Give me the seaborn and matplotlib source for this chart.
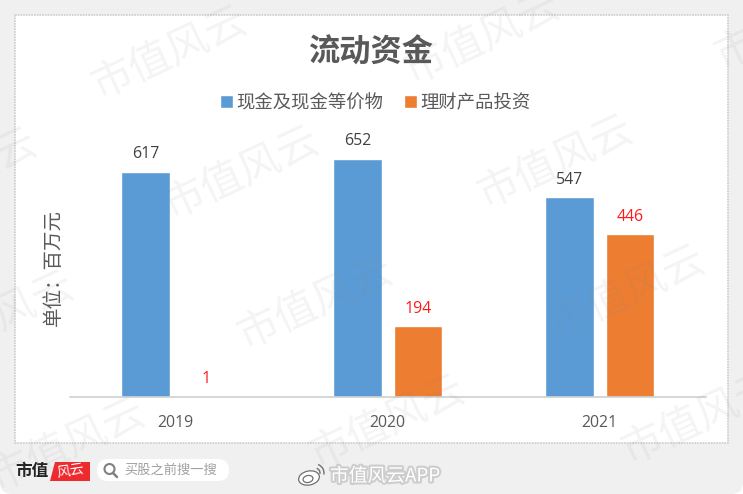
import matplotlib
matplotlib.use("Agg")
from matplotlib import pyplot as plt
from matplotlib import patheffects as pe
from matplotlib.patches import Rectangle, FancyBboxPatch, Circle, Ellipse, Polygon, Arc
import pandas as pd
import seaborn as sns

years = ["2019", "2020", "2021"]
cash = [617, 652, 547]
wealth = [1, 194, 446]
series_names = ["现金及现金等价物", "理财产品投资"]
title = "流动资金"
unit_label = "单位：百万元"
watermark = "市值风云"
# centre of each repeated watermark, in image pixels
watermark_at = [
    (170, 53), (483, 38), (242, 173), (556, 162), (-40, 175),
    (316, 303), (628, 292), (-3, 318), (388, 422), (700, 418),
    (68, 445), (793, 23), (170, 560), (480, 550),
]

BLUE = "#5B9BD5"
ORANGE = "#ED7D31"
GREY = "#595959"
NUM_FONT = ["Open Sans", "Noto Sans CJK SC"]

sns.set_theme(style="white")
plt.rcParams["font.family"] = ["Noto Sans CJK SC", "DejaVu Sans"]

df = pd.DataFrame({
    "year": years * 2,
    "value": cash + wealth,
    "series": [series_names[0]] * 3 + [series_names[1]] * 3,
})

W, H = 743, 494
fig = plt.figure(figsize=(W / 100, H / 100), dpi=100, facecolor="white")

# page background and the chart card, drawn in pixel coordinates
bg = fig.add_axes([0, 0, 1, 1], zorder=0)
bg.set_xlim(0, W)
bg.set_ylim(H, 0)
bg.axis("off")
bg.add_patch(FancyBboxPatch((0, -30), W, H + 30, boxstyle="round,pad=0,rounding_size=12",
                            fc="#F0F0F0", ec="none"))
bg.add_patch(Rectangle((15, 15), 713, 428, fc="white", ec="#D2D2D2", lw=1.3, ls=(0, (1, 0.5))))

ax = fig.add_axes([69.6 / W, 1 - 397 / H, 636 / W, 273.6 / H], zorder=1)
ax.patch.set_alpha(0)
sns.barplot(
    data=df, x="year", y="value", hue="series", order=years, hue_order=series_names,
    palette=[BLUE, ORANGE], width=0.57, gap=0.2, saturation=1, ax=ax,
)
ax.set_ylim(0, 750)
ax.set_yticks([])
ax.set_xlabel("")
ax.set_ylabel(unit_label, fontsize=14, color=GREY, labelpad=4, y=0.475)
ax.tick_params(axis="x", length=0, labelsize=11.4, labelcolor=GREY, pad=13)
for lab in ax.get_xticklabels():
    lab.set_family(NUM_FONT)
sns.despine(ax=ax, left=True)
ax.spines["bottom"].set_color("#D0D0D0")
ax.spines["bottom"].set_linewidth(1.2)

for cont, col in zip(ax.containers, ["#404040", "#FF1A1A"]):
    for lab in ax.bar_label(cont, color=col, fontsize=11.4, padding=7):
        lab.set_family(NUM_FONT)

ax.legend(
    loc="center", bbox_to_anchor=(375.5 / W, 1 - 103 / H), bbox_transform=fig.transFigure,
    ncol=2, frameon=False, fontsize=13.2, labelcolor=GREY, handlelength=0.7, handleheight=0.7,
    handletextpad=0.18, columnspacing=1.15,
)
fig.text(371 / W, 1 - 53 / H, title, ha="center", va="center", fontsize=22.5,
         fontweight="bold", color=GREY)

# footer
bg.text(15, 471, "市值", fontsize=12, fontweight="bold", color="#222222", va="center")
bg.add_patch(Polygon([(55, 462), (90, 462), (90, 481), (50, 481)], fc="#EE2A2E", ec="none"))
bg.text(70, 471, "风云", fontsize=10, color="white", ha="center", va="center", rotation=8)
bg.add_patch(FancyBboxPatch((97, 459), 132, 22, boxstyle="round,pad=0,rounding_size=11",
                            fc="white", ec="none"))
bg.add_patch(Circle((109.5, 469), 5, fc="none", ec="#808080", lw=1.5))
bg.plot([113, 117], [473, 477], color="#808080", lw=1.8)
bg.text(124, 470, "买股之前搜一搜", fontsize=9.5, color="#A0A0A0", va="center")

top = fig.add_axes([0, 0, 1, 1], zorder=2)
top.set_xlim(0, W)
top.set_ylim(H, 0)
top.axis("off")
top.add_patch(Ellipse((309, 478), 21, 14, angle=-12, fc="white", ec="#707070", lw=0.9))
top.add_patch(Ellipse((308, 479), 10, 7, angle=-12, fc="none", ec="#707070", lw=0.9))
top.add_patch(Arc((315, 473), 18, 18, theta1=-70, theta2=10, ec="#707070", lw=1))
top.add_patch(Arc((315, 473), 10, 10, theta1=-70, theta2=10, ec="#707070", lw=1))
top.text(330, 476, "市值风云APP", fontsize=13.5, color="white", va="center",
         path_effects=[pe.withStroke(linewidth=3, foreground="#8C8C8C", alpha=0.35)])
for x, y in watermark_at:
    top.text(x, y, watermark, fontsize=30, fontweight=100, color="#888888", alpha=0.09,
             rotation=25, rotation_mode="anchor", ha="center", va="center", clip_on=True)

fig.savefig("out.png", dpi=100, facecolor=fig.get_facecolor())
